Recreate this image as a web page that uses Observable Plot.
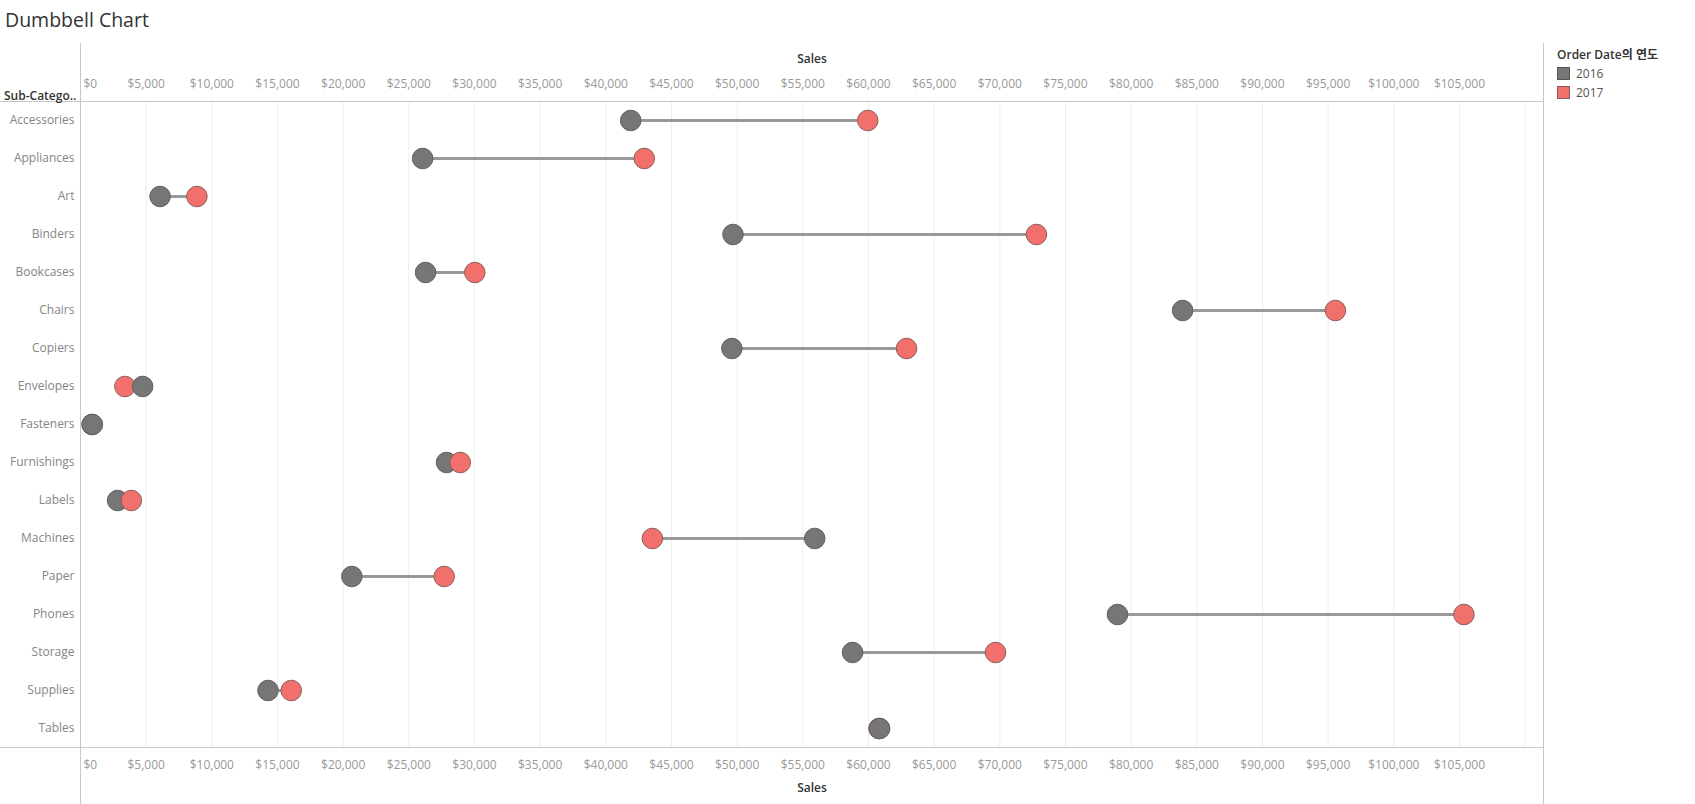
<!DOCTYPE html>
<html>
<head>
<meta charset="utf-8">
<script src="https://cdn.jsdelivr.net/npm/d3@7"></script>
<script src="https://cdn.jsdelivr.net/npm/@observablehq/plot@0.6"></script>
<style>
  html, body { margin: 0; padding: 0; background: #fff; }
  body { font-family: "Open Sans", "Noto Sans CJK KR", sans-serif; }
  #wrap { position: relative; width: 1695px; height: 804px; overflow: hidden; }
  #title { height: 43px; line-height: 40px; padding-left: 5px; font-size: 19.5px; color: #333; }
  .ln { position: absolute; background: #c8c8c8; }
  #legend { position: absolute; left: 1557px; top: 45px; font-size: 12px; color: #333; }
  #legend .t { font-weight: 600; margin-bottom: 1px; }
  #legend .it { display: flex; align-items: center; height: 19px; color: #555; }
  #legend .sw { width: 11px; height: 11px; border: 1px solid #555; margin-right: 6px; }
  #legend .sw.r { border-color: #8a5d5a; }
</style>
</head>
<body>
<div id="wrap">
  <div id="title">Dumbbell Chart</div>
  <div id="chart"></div>
  <div class="ln" style="left:80px; top:43px; width:1px; height:761px;"></div>
  <div class="ln" style="left:1543px; top:43px; width:1px; height:761px;"></div>
  <div class="ln" style="left:0px; top:101px; width:1544px; height:1px;"></div>
  <div class="ln" style="left:0px; top:747px; width:1544px; height:1px;"></div>
  <div style="position:absolute; left:4px; top:87px; font-size:12px; font-weight:600; color:#333;">Sub-Catego..</div>
  <div id="legend"></div>
</div>
<script>
const subCategories = ["Accessories","Appliances","Art","Binders","Bookcases","Chairs","Copiers","Envelopes","Fasteners","Furnishings","Labels","Machines","Paper","Phones","Storage","Supplies","Tables"];
const years = ["2016","2017"];
const sales2016 = [41896, 26050, 6058, 49683, 26275, 83919, 49599, 4730, 900, 27874, 2827, 55907, 20662, 78962, 58789, 14278, 60850];
const sales2017 = [59946, 42927, 8863, 72788, 30024, 95554, 62899, 3379, 880, 28915, 3870, 43545, 27695, 105341, 69677, 16049, 60800];
const gridTicks = d3.range(5000, 110001, 5000);
const labelTicks = d3.range(5000, 105001, 5000);
const yearColors = ["#767676", "#f1706b"];

const rows = subCategories.map((s, i) => ({
  sub: s,
  lo: Math.min(sales2016[i], sales2017[i]),
  hi: Math.max(sales2016[i], sales2017[i])
}));
const points = [];
subCategories.forEach((s, i) => {
  points.push({sub: s, year: "2016", sales: sales2016[i]});
  points.push({sub: s, year: "2017", sales: sales2017[i]});
});
const sortedPoints = d3.sort(points, d => d.sales);

const fmt = d => "$" + d3.format(",")(d);

const chart = Plot.plot({
  width: 1695,
  height: 761,
  marginLeft: 80,
  marginRight: 152,
  marginTop: 58,
  marginBottom: 57,
  style: {fontFamily: "Open Sans, Noto Sans CJK KR, sans-serif", fontSize: "12px", color: "#858585", background: "white"},
  x: {domain: [0, 111400], axis: null},
  y: {type: "band", domain: subCategories, padding: 0, tickSize: 0, tickPadding: 6, label: null},
  color: {domain: years, range: yearColors},
  marks: [
    Plot.ruleX(gridTicks, {stroke: "#eeeeee", strokeWidth: 1}),
    Plot.ruleY(rows, {y: "sub", x1: "lo", x2: "hi", stroke: "#999999", strokeWidth: 3}),
    Plot.dot(sortedPoints, {x: "sales", y: "sub", r: 10.3, fill: "year", stroke: d => d.year === "2016" ? "#5e5e5e" : "#8a5d5a", strokeWidth: 1}),
    // top axis labels
    Plot.text([0], {x: d => d, frameAnchor: "top", dy: -17, dx: 3, lineAnchor: "middle", text: fmt, textAnchor: "start", fill: "#999", fontSize: 12}),
    Plot.text(labelTicks, {x: d => d, frameAnchor: "top", dy: -17, lineAnchor: "middle", text: fmt, fill: "#999", fontSize: 12}),
    Plot.text(["Sales"], {frameAnchor: "top", dy: -42, lineAnchor: "middle", text: d => d, fill: "#333", fontSize: 12, fontWeight: 600}),
    // bottom axis labels
    Plot.text([0], {x: d => d, frameAnchor: "bottom", dy: 18, dx: 3, lineAnchor: "middle", text: fmt, textAnchor: "start", fill: "#999", fontSize: 12}),
    Plot.text(labelTicks, {x: d => d, frameAnchor: "bottom", dy: 18, lineAnchor: "middle", text: fmt, fill: "#999", fontSize: 12}),
    Plot.text(["Sales"], {frameAnchor: "bottom", dy: 41, lineAnchor: "middle", text: d => d, fill: "#333", fontSize: 12, fontWeight: 600})
  ]
});
document.getElementById("chart").appendChild(chart);

const legend = document.getElementById("legend");
legend.innerHTML = '<div class="t">Order Date의 연도</div>' +
  years.map((y, i) => `<div class="it"><div class="sw${i ? ' r' : ''}" style="background:${yearColors[i]}"></div>${y}</div>`).join("");
</script>
</body>
</html>
